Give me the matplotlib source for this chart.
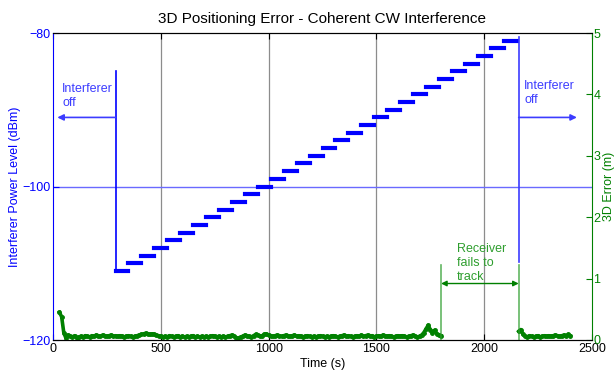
import numpy as np
import matplotlib
matplotlib.use("Agg")
import matplotlib.pyplot as plt

plt.rcParams['font.family'] = ['Liberation Sans', 'DejaVu Sans']
plt.rcParams['font.size'] = 9

BLUE = '#0000ff'
LBLUE = '#3c3cff'
GREEN = '#008000'
LGREEN = '#2e9e2e'

# Interferer power staircase (dBm): one level per 60 s step
power_levels = [-111, -110, -109, -108, -107, -106, -105, -104, -103, -102,
                -101, -100, -99, -98, -97, -96, -95, -94, -93, -92,
                -91, -90, -89, -88, -87, -86, -85, -84, -83, -82, -81]
step_duration = 60
interferer_on = 290
interferer_off = 2160
track_lost = 1800

# 3D position error (m), sampled every 10 s while tracking
err_t1 = np.arange(30, 1801, 10)
err_v1 = [0.45, 0.38, 0.12, 0.03, 0.08, 0.06, 0.05, 0.07,
          0.04, 0.05, 0.06, 0.05, 0.07, 0.06, 0.05, 0.07, 0.06, 0.08,
          0.07, 0.06, 0.08, 0.07, 0.06, 0.07, 0.08, 0.06, 0.07, 0.06,
          0.07, 0.06, 0.05, 0.06, 0.07, 0.06, 0.05, 0.06, 0.07, 0.08,
          0.09, 0.10, 0.11, 0.10, 0.09, 0.10, 0.09, 0.08, 0.07, 0.06,
          0.05, 0.06, 0.05, 0.07, 0.06, 0.05, 0.06, 0.07, 0.05, 0.06,
          0.05, 0.06, 0.05, 0.06, 0.07, 0.05, 0.06, 0.05, 0.06, 0.05,
          0.06, 0.05, 0.06, 0.07, 0.06, 0.05, 0.06, 0.05, 0.06, 0.05,
          0.06, 0.07, 0.08, 0.06, 0.04, 0.03, 0.05, 0.06, 0.08, 0.07,
          0.06, 0.05, 0.07, 0.09, 0.08, 0.06, 0.07, 0.09, 0.10, 0.08,
          0.07, 0.06, 0.07, 0.08, 0.07, 0.06, 0.07, 0.08, 0.07, 0.06,
          0.07, 0.08, 0.06, 0.07, 0.06, 0.05, 0.06, 0.07, 0.06, 0.05,
          0.06, 0.05, 0.06, 0.07, 0.06, 0.05, 0.06, 0.05, 0.06, 0.07,
          0.06, 0.05, 0.06, 0.07, 0.08, 0.06, 0.07, 0.06, 0.05, 0.06,
          0.07, 0.06, 0.08, 0.06, 0.07, 0.08, 0.06, 0.07, 0.05, 0.06,
          0.07, 0.06, 0.08, 0.07, 0.06, 0.07, 0.06, 0.05, 0.06, 0.07,
          0.06, 0.07, 0.06, 0.05, 0.06, 0.07, 0.08, 0.06, 0.05, 0.06,
          0.08, 0.12, 0.18, 0.24, 0.17, 0.12, 0.16, 0.10, 0.08, 0.07]
err_t2 = np.arange(2160, 2401, 10)
err_v2 = [0.14, 0.17, 0.09, 0.06, 0.05, 0.07, 0.06, 0.05, 0.06, 0.07,
          0.05, 0.06, 0.07, 0.06, 0.07, 0.06, 0.07, 0.08, 0.07, 0.06,
          0.07, 0.08, 0.07, 0.09, 0.07]

x_ticks = [0, 500, 1000, 1500, 2000, 2500]
power_ticks = [-120, -100, -80]
err_ticks = [0, 1, 2, 3, 4, 5]

fig = plt.figure(figsize=(6.16, 3.75), dpi=100)
ax = fig.add_axes([53 / 616, 1 - 340 / 375, (592 - 53) / 616, (340 - 33) / 375])
ax2 = ax.twinx()

# --- power axis ---
ax.set_xlim(0, 2500)
ax.set_ylim(-120, -80)
ax.set_xticks(x_ticks)
ax.set_yticks(power_ticks)
for xv in x_ticks[1:-1]:
    ax.axvline(xv, color='#8c8c8c', lw=0.9, zorder=0)
ax.axhline(-100, color='#6a6aff', lw=1.0, zorder=0)

for i, p in enumerate(power_levels):
    t0 = interferer_on + i * step_duration
    ax.plot([t0, t0 + step_duration], [p, p], color=BLUE, lw=3,
            solid_capstyle='projecting')

ax.plot([interferer_on, interferer_on], [-85, power_levels[0]], color=BLUE, lw=1.2)
ax.plot([interferer_off, interferer_off], [-80.5, -109.8], color=LBLUE, lw=1.2)
ax.annotate('', xy=(20, -91), xytext=(interferer_on, -91),
            arrowprops=dict(arrowstyle='-|>', color=LBLUE, lw=1.2,
                            mutation_scale=9, shrinkA=0, shrinkB=0))
ax.annotate('', xy=(2430, -91), xytext=(interferer_off, -91),
            arrowprops=dict(arrowstyle='-|>', color=LBLUE, lw=1.2,
                            mutation_scale=9, shrinkA=0, shrinkB=0))
ax.text(42, -89.5, 'Interferer\noff', color=LBLUE, ha='left', va='baseline',
        linespacing=1.25)
ax.text(2185, -89.1, 'Interferer\noff', color=LBLUE, ha='left', va='baseline',
        linespacing=1.25)

ax.set_ylabel('Interferer Power Level (dBm)', color=BLUE, labelpad=1)
ax.set_xlabel('Time (s)', labelpad=2)
ax.set_title('3D Positioning Error - Coherent CW Interference', fontsize=11, pad=7)
ax.tick_params(axis='y', colors=BLUE, direction='in', length=4, pad=2)
ax.tick_params(axis='x', direction='in', length=4, top=True, pad=2)
ax.spines['left'].set_color(BLUE)
ax.spines['right'].set_visible(False)

# --- error axis ---
ax2.set_ylim(0, 5)
ax2.set_yticks(err_ticks)
ax2.tick_params(axis='y', colors=GREEN, direction='in', length=4, pad=1)
ax2.spines['right'].set_color(GREEN)
ax2.spines['left'].set_visible(False)
ax2.set_ylabel('3D Error (m)', color=GREEN, labelpad=2)

ax2.plot(err_t1, err_v1, color=GREEN, lw=2.6, marker='.', ms=5)
ax2.plot(err_t2, err_v2, color=GREEN, lw=2.6, marker='.', ms=5)

ax2.plot([track_lost, track_lost], [0, 1.22], color=LGREEN, lw=1.2, alpha=0.75)
ax2.plot([interferer_off, interferer_off], [0, 1.22], color=LGREEN, lw=1.2, alpha=0.75)
ax2.annotate('', xy=(track_lost, 0.92), xytext=(interferer_off, 0.92),
             arrowprops=dict(arrowstyle='<|-|>', color=GREEN, lw=1.0,
                             mutation_scale=8, shrinkA=0, shrinkB=0))
ax2.text(1875, 0.97, 'Receiver\nfails to\ntrack', color=LGREEN, ha='left',
         va='baseline', linespacing=1.25)

fig.savefig('out.png', dpi=100)
